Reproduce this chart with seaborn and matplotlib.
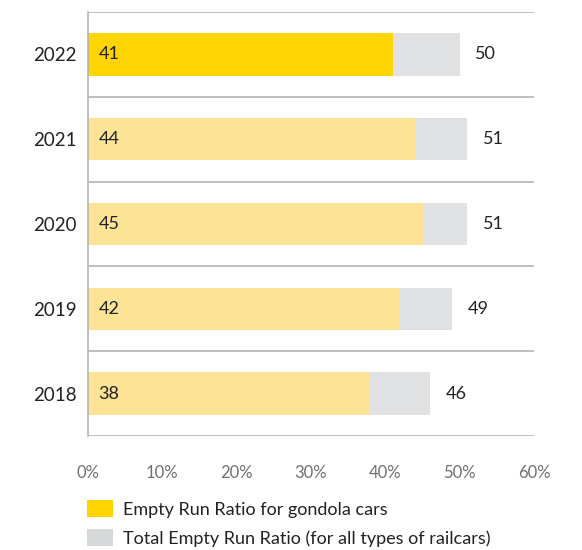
import pandas as pd
import seaborn as sns
import matplotlib.pyplot as plt
from matplotlib.patches import Patch

years = ["2022", "2021", "2020", "2019", "2018"]
gondola = [41, 44, 45, 42, 38]
total = [50, 51, 51, 49, 46]
x_ticks = [0, 10, 20, 30, 40, 50, 60]
legend_labels = ["Empty Run Ratio for gondola cars",
                 "Total Empty Run Ratio (for all types of railcars)"]

gold = "#FFD400"
pale = "#FDE396"
grey = "#E0E1E3"
grey_patch = "#D6D9D9"
line = "#B3B3B3"

sns.set_style("white")
plt.rcParams["font.family"] = ["Lato", "DejaVu Sans"]

df = pd.DataFrame({"year": years, "gondola": gondola, "total": total})

fig = plt.figure(figsize=(5.82, 5.5), dpi=100)
ax = fig.add_axes([88 / 582, 1 - 436 / 550, 446 / 582, 424 / 550])

sns.barplot(data=df, x="total", y="year", order=years, color=grey,
            width=0.5, orient="h", ax=ax, saturation=1, linewidth=0)
sns.barplot(data=df, x="gondola", y="year", order=years, hue="year",
            palette=[gold] + [pale] * 4, width=0.5, orient="h", ax=ax,
            saturation=1, legend=False, linewidth=0)

for i, (g, t) in enumerate(zip(gondola, total)):
    ax.text(1.4, i, str(g), va="center", ha="left", fontsize=13, color="#222222")
    ax.text(t + 2.1, i, str(t), va="center", ha="left", fontsize=13, color="#222222")

ax.set_xlim(0, 60)
ax.set_ylim(len(years) - 0.5, -0.5)
ax.set_xticks(x_ticks)
ax.set_xticklabels(["%d%%" % v for v in x_ticks])
ax.set_yticks(range(len(years)), minor=False)
ax.set_yticks([i + 0.5 for i in range(-1, len(years))], minor=True)
ax.grid(which="minor", axis="y", color=line, linewidth=1.2)
ax.grid(which="major", visible=False)
ax.tick_params(axis="x", length=0, pad=21, labelsize=12, labelcolor="#707070")
ax.tick_params(axis="y", which="both", length=0, pad=8, labelsize=13.5, labelcolor="#222222")
ax.set_xlabel("")
ax.set_ylabel("")
for s in ["top", "right", "bottom"]:
    ax.spines[s].set_visible(False)
ax.spines["left"].set_color(line)
ax.spines["left"].set_linewidth(1.2)

handles = [Patch(facecolor=gold, edgecolor="none"), Patch(facecolor=grey_patch, edgecolor="none")]
fig.legend(handles, legend_labels, loc="upper left", bbox_to_anchor=(71 / 582, 1 - 484 / 550),
           frameon=False, fontsize=13, handlelength=1.44, handleheight=1.05,
           handletextpad=0.55, labelspacing=0.62, labelcolor="#222222")

plt.savefig("out.png", dpi=100)
plt.close()
